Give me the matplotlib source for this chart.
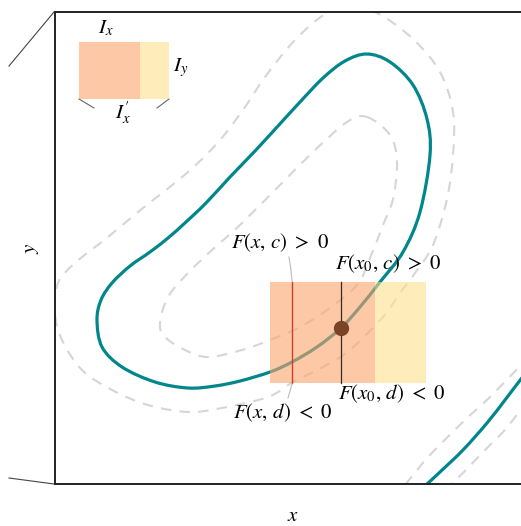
import numpy as np
import matplotlib
matplotlib.use("Agg")
import matplotlib.pyplot as plt
from matplotlib.lines import Line2D
from matplotlib.path import Path
from matplotlib.patches import PathPatch

plt.rcParams['mathtext.fontset'] = 'stix'
plt.rcParams['font.family'] = 'STIXGeneral'

# curves (pixel units, y downwards)
teal_main = [(367, 54), (345, 61), (323, 78), (300, 102), (278, 126), (255, 151),
             (230, 177), (206, 203), (186, 222), (168, 238), (150, 252), (130, 266),
             (112, 283), (101, 300), (97, 320), (102, 347), (122, 367), (155, 382),
             (188, 388), (215, 386), (240, 381), (270, 372), (292, 362), (317, 347),
             (341, 328), (360, 307), (380, 282), (403, 252), (420, 212), (430, 155),
             (427, 119), (413, 85), (390, 62), (367, 54)]
teal_corner = [(530, 368), (521, 379), (505, 400), (487, 423), (463, 450),
               (440, 472), (426, 485)]
dash_outer = [(352, 10), (377, 13), (413, 39), (440, 72), (453, 112), (453, 155),
              (447, 199), (433, 245), (415, 273), (400, 293), (383, 317), (350, 350),
              (323, 367), (293, 382), (268, 397), (222, 408), (188, 412), (148, 405),
              (112, 390), (82, 370), (62, 340), (55, 313), (58, 283), (75, 263),
              (108, 237), (138, 212), (188, 172), (220, 140), (245, 107), (265, 77),
              (295, 40), (327, 13), (352, 10)]
dash_inner = [(367, 117), (390, 135), (397, 162), (393, 199), (383, 225), (370, 258),
              (357, 285), (327, 310), (300, 327), (270, 340), (242, 350), (208, 357),
              (185, 350), (165, 337), (160, 323), (168, 297), (188, 273), (212, 250),
              (240, 225), (280, 185), (313, 152), (347, 122), (367, 117)]
dash_corner_a = [(530, 356), (521, 365), (490, 397), (465, 420), (430, 455), (405, 485)]
dash_corner_b = [(530, 402), (521, 410), (503, 432), (483, 452), (463, 473), (450, 485)]

# boxes
box_orange = (270, 282, 375, 383)
box_yellow = (375, 282, 426, 383)
key_orange = (79, 42, 140, 99)
key_yellow = (140, 42, 169, 99)
x_red = 292
x0 = 341
y0 = 328

labels = [r"$F(x,\, c)\ >\ 0$", r"$F(x_0,\, c)\ >\ 0$",
          r"$F(x_0,\, d)\ <\ 0$", r"$F(x,\, d)\ <\ 0$"]
label_xy = [(280, 243), (388, 264), (392, 394), (283, 413)]

TEAL = '#00868b'
DASH = '#d6d6d6'

fig = plt.figure(figsize=(5.21, 5.26), dpi=100)
ax = fig.add_axes([55 / 521, 42 / 526, 475 / 521, 472 / 526])
ax.set_xlim(55, 530)
ax.set_ylim(484, 12)
ax.set_xticks([])
ax.set_yticks([])
for s in ax.spines.values():
    s.set_color('#222222')
    s.set_linewidth(1.4)


def curve(pts, closed, **kw):
    # smooth path through the read points, drawn as bezier segments
    p = np.array(pts, float)
    if closed:
        p = p[:-1]
        ext = np.vstack([p[-1], p, p[0], p[1]])
    else:
        ext = np.vstack([p[0], p, p[-1]])
    verts = [ext[1]]
    codes = [Path.MOVETO]
    for i in range(1, len(ext) - 2):
        p0, p1, p2, p3 = ext[i - 1:i + 3]
        verts += [p1 + (p2 - p0) / 6, p2 - (p3 - p1) / 6, p2]
        codes += [Path.CURVE4] * 3
    ax.add_patch(PathPatch(Path(verts, codes), fill=False, capstyle='butt',
                           joinstyle='round', **kw))


for c, closed in [(dash_outer, True), (dash_inner, True),
                  (dash_corner_a, False), (dash_corner_b, False)]:
    curve(c, closed, edgecolor=DASH, lw=1.5, linestyle=(0, (5, 4)), zorder=1)
curve(teal_main, True, edgecolor=TEAL, lw=2.3, zorder=2)
curve(teal_corner, False, edgecolor=TEAL, lw=2.3, zorder=2)


def rect(b, color):
    ax.fill([b[0], b[2], b[2], b[0]], [b[1], b[1], b[3], b[3]], color=color,
            alpha=0.6, lw=0, zorder=3)


rect(box_orange, '#fca46a')
rect(box_yellow, '#fee08f')
rect(key_orange, '#fca46a')
rect(key_yellow, '#fee08f')

ax.plot([x_red, x_red], [box_orange[1], box_orange[3]], color='#c8422f', lw=1.0, zorder=4)
ax.plot([x0, x0], [box_orange[1], box_orange[3]], color='#3a2a22', lw=0.9, zorder=4)
ax.plot([x0], [y0], 'o', ms=10, color='#7a4526', zorder=5)

# leader lines
ax.plot([289, 291, 292], [257, 270, 281], color='#bbbbbb', lw=0.8, zorder=4)
ax.plot([292, 290, 288], [384, 391, 398], color='#bbbbbb', lw=0.8, zorder=4)

# key brackets
ax.plot([79, 94], [99, 108], color='#666666', lw=0.8, clip_on=False)
ax.plot([169, 157], [99, 108], color='#666666', lw=0.8, clip_on=False)

for t, (x, y) in zip(labels, label_xy):
    ax.text(x, y, t, fontsize=15, ha='center', va='center', zorder=6)

ax.text(106, 28, "$I_x$", fontsize=15, ha='center', va='center')
ax.text(181, 68, "$I_y$", fontsize=15, ha='center', va='center')
ax.text(123, 113, r"$I^{\prime}_{x}$", fontsize=15, ha='center', va='center')

ax.set_xlabel("$x$", fontsize=15, labelpad=16)
ax.set_ylabel("$y$", fontsize=15, labelpad=10)

# edges of the panel behind
fig.add_artist(Line2D([9 / 521, 54 / 521], [1 - 66 / 526, 1 - 12 / 526],
                      color='#444444', lw=0.8))
fig.add_artist(Line2D([9 / 521, 54 / 521], [1 - 478 / 526, 1 - 484 / 526],
                      color='#444444', lw=0.8))

fig.savefig('out.png', dpi=100)
